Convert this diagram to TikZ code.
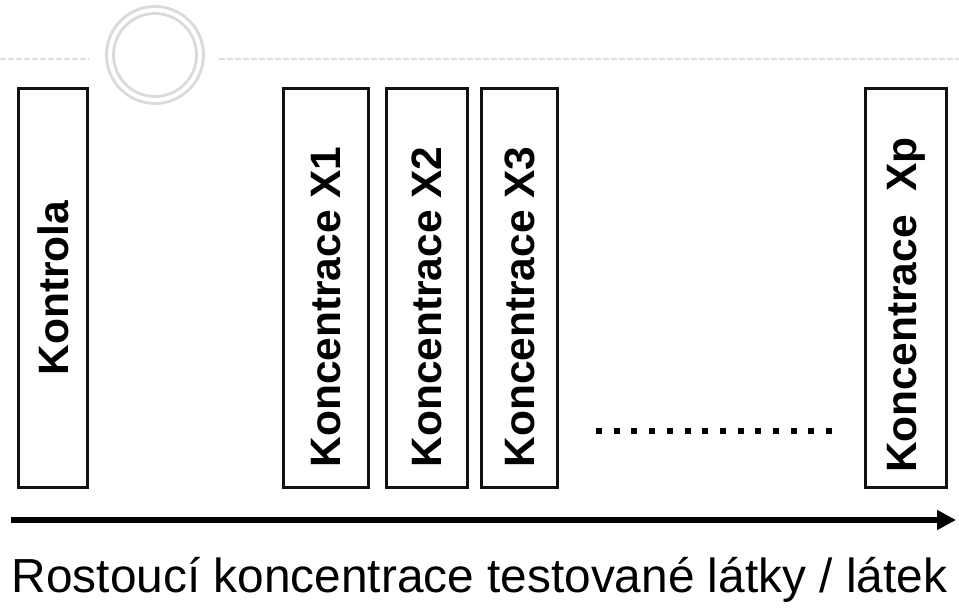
\documentclass[tikz,border=0pt]{standalone}
\usepackage{fontspec}
\setmainfont{Liberation Sans}
\usetikzlibrary{arrows.meta}
\definecolor{decogray}{HTML}{DADADA}
\definecolor{dashgray}{HTML}{DDDDDD}
\definecolor{boxblack}{HTML}{111111}
\tikzset{
  x=1pt, y=-1pt,
  colbox/.style={draw=boxblack, line width=3pt, rectangle, inner sep=0pt},
  coltext/.style={rotate=90, font=\bfseries\fontsize{42.5}{42.5}\selectfont, inner sep=0pt},
  deco/.style={draw=decogray, line width=2.8pt},
  guide/.style={draw=dashgray, line width=2pt, dash pattern=on 5.5pt off 2.5pt},
}
\begin{document}
\begin{tikzpicture}
\useasboundingbox (0,0) rectangle (959,609);
% decorative header
\coordinate (gl0) at (0,59);
\coordinate (gl1) at (89,59);
\coordinate (gr0) at (219,59);
\coordinate (gr1) at (959,59);
\draw[guide] (gl0) -- (gl1);
\draw[guide] (gr0) -- (gr1);
\node[deco, circle, minimum size=97pt, inner sep=0pt] (c1) at (155,55) {};
\node[deco, circle, minimum size=83pt, inner sep=0pt] (c2) at (155,55) {};
% boxes
\node[colbox, minimum width=69pt, minimum height=399pt] (k) at (53,288) {};
\node[colbox, minimum width=85pt, minimum height=399pt] (x1) at (326,288) {};
\node[colbox, minimum width=81pt, minimum height=399pt] (x2) at (427,288) {};
\node[colbox, minimum width=76pt, minimum height=399pt] (x3) at (519.5,288) {};
\node[colbox, minimum width=81pt, minimum height=399pt] (xp) at (906,288) {};
% texts
\node[coltext] (tk) at (53,288) {Kontrola};
\node[coltext] (t1) at (326,307) {Koncentrace X1};
\node[coltext] (t2) at (427,307) {Koncentrace X2};
\node[coltext] (t3) at (519.5,307) {Koncentrace X3};
\node[coltext] (tp) at (906,305) {Koncentrace\ \ Xp};
% dots
\coordinate (d0) at (596,431);
\coordinate (d1) at (832.5,431);
\draw[line width=6pt, dash pattern=on 6pt off 11.7pt] (d0) -- (d1);
% arrow
\coordinate (a0) at (11,520);
\coordinate (a1) at (956,520);
\draw[line width=6pt, -{Triangle[length=19pt, width=19pt]}] (a0) -- (a1);
% caption
\node[font=\fontsize{47.8}{47.8}\selectfont, inner sep=0pt] (cap) at (479.5,580) {Rostoucí koncentrace testované látky / látek};
\end{tikzpicture}
\end{document}
